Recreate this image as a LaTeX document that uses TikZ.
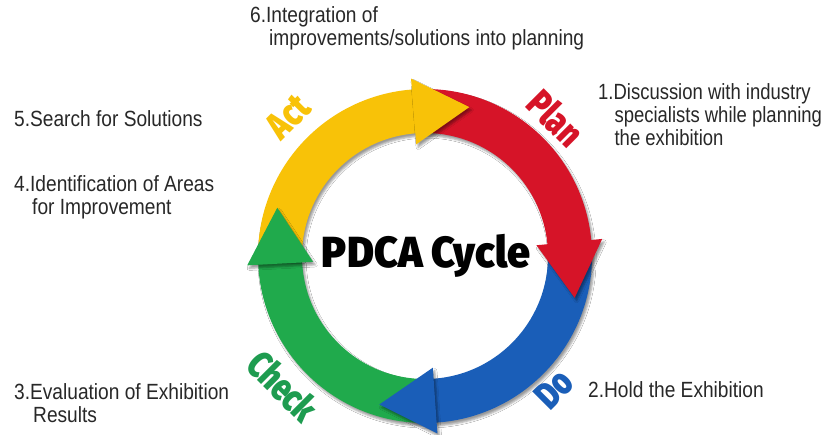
\documentclass[tikz,border=0pt]{standalone}
\usepackage{fontspec}
\setmainfont{Liberation Sans}[FakeStretch=0.87]
\newfontfamily\heavyfont{Fira Sans}[UprightFont={* Black},FakeStretch=0.78]
\usetikzlibrary{shadows,shadows.blur}

\definecolor{actyellow}{RGB}{248,194,8}
\definecolor{planred}{RGB}{214,20,40}
\definecolor{doblue}{RGB}{26,94,184}
\definecolor{checkgreen}{RGB}{32,170,76}
\definecolor{checktext}{RGB}{30,156,80}
\definecolor{notegray}{RGB}{40,40,40}

% ring geometry (pt): outer/inner radius of the band
\newcommand\ringout{167}
\newcommand\ringin{123}
% band of the cycle, running clockwise from #2 to #3 degrees
\newcommand\cycleband[3]{%
  \fill[ringpart=#1] (#2:\ringout) arc[start angle=#2,end angle=#3-1,radius=\ringout]
    -- ({#3-1}:\ringin) arc[start angle=#3-1,end angle=#2,radius=\ringin] -- cycle;}
% arrow head whose base sits at angle #2, pointing clockwise
\newcommand\cyclehead[2]{%
  \fill[ringpart=#1] (#2:178) -- ({#2-21.1}:155.4) -- (#2:112) -- cycle;}

\tikzset{
  ringpart/.style={fill=#1,blur shadow={shadow xshift=2pt,shadow yshift=-3pt}},
  stagelabel/.style={font=\heavyfont\fontsize{38}{38}\selectfont,inner sep=0pt},
  note/.style={anchor=base west,inner sep=0pt,text=notegray,
    font=\fontsize{22}{22.5}\selectfont},
  titletext/.style={font=\heavyfont\fontsize{43.5}{43.5}\selectfont,anchor=base,inner sep=0pt}
}

\begin{document}
\begin{tikzpicture}[x=1pt,y=1pt]
\useasboundingbox[fill=white] (-425,-179) rectangle (408,256);
\coordinate (C) at (0,0);

% the four bands, each starting under the head of the previous stage
\cycleband{checkgreen}{272}{183}
\cycleband{actyellow}{181}{94.5}
\cycleband{planred}{92}{5.5}
\cycleband{doblue}{3}{-86}

% the heads on top
\cyclehead{actyellow}{94.5}
\cyclehead{planred}{5.5}
\cyclehead{doblue}{-86}
\cyclehead{checkgreen}{183}

% stage names around the ring
\node[stagelabel,text=actyellow,rotate=45]  (act)   at (-137,139) {Act};
\node[stagelabel,text=planred,rotate=-45]   (plan)  at (131,138)  {Plan};
\node[stagelabel,text=doblue,rotate=45]     (do)    at (129,-133) {Do};
\node[stagelabel,text=checktext,rotate=-45] (check) at (-142,-130) {Check};

\node[titletext] (title) at (1,-12) {\resizebox{208pt}{\height}{PDCA Cycle}};

% step descriptions
\node[note] (n6) at (-175,233) {\begin{tabular}[t]{@{}l@{}}6.Integration of\\\hspace*{19pt}improvements/solutions into planning\end{tabular}};
\node[note] (n1) at (173,156) {\scalebox{0.965}[1]{\begin{tabular}[t]{@{}l@{}}1.Discussion with industry\\\hspace*{17pt}specialists while planning\\\hspace*{17pt}the exhibition\end{tabular}}};
\node[note] (n5) at (-411,129) {5.Search for Solutions};
\node[note] (n4) at (-411,64) {\begin{tabular}[t]{@{}l@{}}4.Identification of Areas\\\hspace*{18pt}for Improvement\end{tabular}};
\node[note] (n3) at (-411,-144) {\begin{tabular}[t]{@{}l@{}}3.Evaluation of Exhibition\\\hspace*{19pt}Results\end{tabular}};
\node[note] (n2) at (163,-142) {2.Hold the Exhibition};
\end{tikzpicture}
\end{document}
